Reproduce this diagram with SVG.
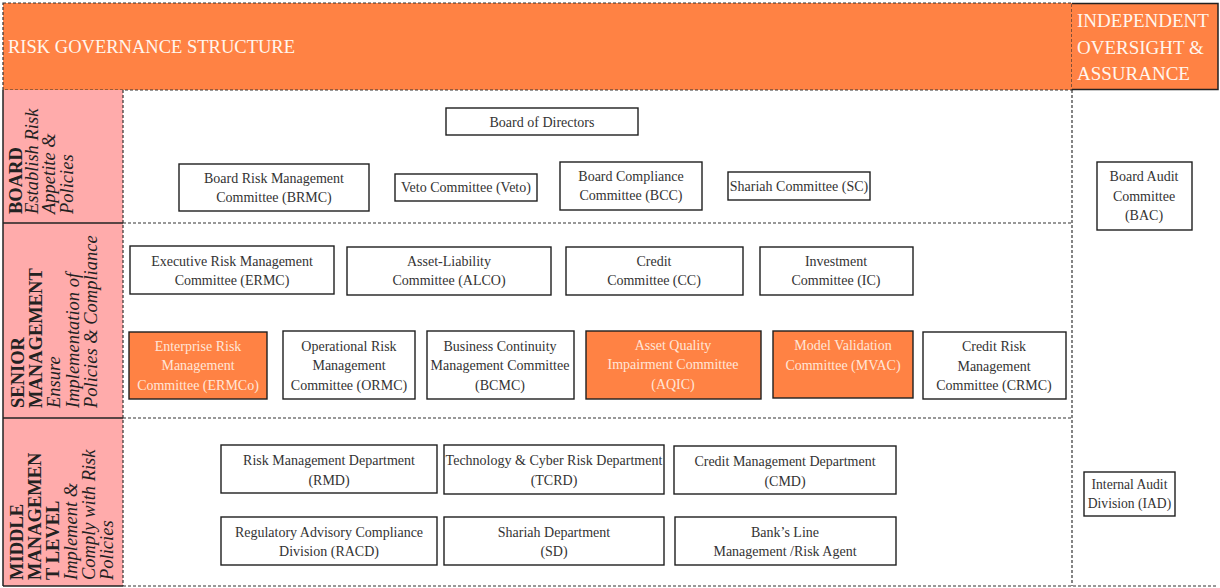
<svg xmlns="http://www.w3.org/2000/svg" width="1220" height="588" viewBox="0 0 1220 588">
<style>
.bg{fill:#ffffff}
.orange{fill:#FF8244}
.pink{fill:#FFABAB}
.dash{stroke:#333;stroke-width:1.2;stroke-dasharray:3 2;fill:none}
.solid{stroke:#222;stroke-width:1.5;fill:none}
.box{fill:#ffffff;stroke:#1e1e1e;stroke-width:1.4}
.obox{fill:#FF8244;stroke:#1e1e1e;stroke-width:1.4}
.t{font-family:"Liberation Serif","Times New Roman",serif;font-size:14px;fill:#333;text-anchor:middle}
.ts{font-family:"Liberation Serif","Times New Roman",serif;font-size:13.6px;fill:#333;text-anchor:middle}
.to{font-family:"Liberation Serif","Times New Roman",serif;font-size:14px;fill:#FFE6D8;text-anchor:middle}
.hd{font-family:"Liberation Serif","Times New Roman",serif;font-size:19px;fill:#FFF6EE}
.lane{font-family:"Liberation Serif","Times New Roman",serif;font-size:18.5px;fill:#222}
.b{font-weight:bold}
.i{font-style:italic}
</style>
<rect class="bg" x="0" y="0" width="1220" height="588"/>

<g id="header">
  <rect class="orange" x="3" y="3" width="1069" height="87"/>
  <rect class="dash" x="3" y="3" width="1069" height="87"/>
  <text class="hd" x="8" y="53" textLength="287" lengthAdjust="spacingAndGlyphs">RISK GOVERNANCE STRUCTURE</text>
</g>
<g id="oversight-header">
  <rect class="orange" x="1072" y="3" width="146" height="87"/>
  <polyline class="solid" points="1072,3.5 1218,3.5 1218,89.5 1072,89.5"/>
  <text class="hd"><tspan x="1077" y="27">INDEPENDENT</tspan><tspan x="1077" y="54">OVERSIGHT &amp;</tspan><tspan x="1077" y="80">ASSURANCE</tspan></text>
</g>

<g id="lanes">
  <rect class="pink" x="3" y="90" width="120" height="133"/>
  <rect class="pink" x="3" y="223" width="120" height="195"/>
  <rect class="pink" x="3" y="418" width="120" height="168"/>
  <line class="solid" x1="3" y1="90" x2="3" y2="586"/>
  <line class="solid" x1="3" y1="223" x2="123" y2="223"/>
  <line class="solid" x1="3" y1="418" x2="123" y2="418"/>
  <line class="solid" x1="3" y1="586" x2="123" y2="586"/>
  <line class="dash" x1="123" y1="90" x2="123" y2="586"/>
  <line class="dash" x1="123" y1="223" x2="1072" y2="223"/>
  <line class="dash" x1="123" y1="418" x2="1072" y2="418"/>
  <line class="dash" x1="123" y1="586" x2="1218" y2="586"/>
  <line class="dash" x1="1072" y1="90" x2="1072" y2="586"/>
</g>

<g id="lane-board">
  <text class="lane" transform="translate(21.5,214) rotate(-90)"><tspan class="b" x="0" y="0">BOARD</tspan><tspan class="i" x="0" y="16">Establish Risk</tspan><tspan class="i" x="0" y="33.5">Appetite &amp;</tspan><tspan class="i" x="0" y="51">Policies</tspan></text>
</g>
<g id="lane-senior">
  <text class="lane" transform="translate(24,408) rotate(-90)"><tspan class="b" x="0" y="0">SENIOR</tspan><tspan class="b" x="0" y="18">MANAGEMENT</tspan><tspan class="i" x="0" y="36">Ensure</tspan><tspan class="i" x="0" y="54.5">Implementation of</tspan><tspan class="i" x="0" y="73">Policies &amp; Compliance</tspan></text>
</g>
<g id="lane-middle">
  <text class="lane" transform="translate(23,580) rotate(-90)"><tspan class="b" x="0" y="0">MIDDLE</tspan><tspan class="b" x="0" y="18">MANAGEMEN</tspan><tspan class="b" x="0" y="36">T LEVEL</tspan><tspan class="i" x="0" y="54">Implement &amp;</tspan><tspan class="i" x="0" y="72">Comply with Risk</tspan><tspan class="i" x="0" y="90">Policies</tspan></text>
</g>

<g id="connectors"></g>

<g id="bod"><rect class="box" x="446" y="108" width="192" height="27"/><text class="t" x="542" y="127">Board of Directors</text></g>
<g id="brmc"><rect class="box" x="179" y="164" width="190" height="47"/><text class="t"><tspan x="274" y="183">Board Risk Management</tspan><tspan x="274" y="202">Committee (BRMC)</tspan></text></g>
<g id="veto"><rect class="box" x="395" y="174" width="142" height="27"/><text class="t" x="466" y="192">Veto Committee (Veto)</text></g>
<g id="bcc"><rect class="box" x="560" y="162" width="142" height="48"/><text class="t"><tspan x="631" y="181">Board Compliance</tspan><tspan x="631" y="200">Committee (BCC)</tspan></text></g>
<g id="sc"><rect class="box" x="728" y="172" width="142" height="28"/><text class="t" x="799" y="191">Shariah Committee (SC)</text></g>

<g id="ermc"><rect class="box" x="130" y="246" width="204" height="48"/><text class="t"><tspan x="232" y="266">Executive Risk Management</tspan><tspan x="232" y="285">Committee (ERMC)</tspan></text></g>
<g id="alco"><rect class="box" x="347" y="247" width="204" height="48"/><text class="t"><tspan x="449" y="266">Asset-Liability</tspan><tspan x="449" y="285">Committee (ALCO)</tspan></text></g>
<g id="cc"><rect class="box" x="566" y="247" width="177" height="48"/><text class="t"><tspan x="654" y="266">Credit</tspan><tspan x="654" y="285">Committee (CC)</tspan></text></g>
<g id="ic"><rect class="box" x="760" y="247" width="153" height="48"/><text class="t"><tspan x="836" y="266">Investment</tspan><tspan x="836" y="285">Committee (IC)</tspan></text></g>

<g id="ermco"><rect class="obox" x="129" y="332" width="138" height="67"/><text class="to"><tspan x="198" y="351">Enterprise Risk</tspan><tspan x="198" y="370">Management</tspan><tspan x="198" y="390">Committee (ERMCo)</tspan></text></g>
<g id="ormc"><rect class="box" x="283" y="331" width="132" height="68"/><text class="t"><tspan x="349" y="351">Operational Risk</tspan><tspan x="349" y="370">Management</tspan><tspan x="349" y="390">Committee (ORMC)</tspan></text></g>
<g id="bcmc"><rect class="box" x="427" y="331" width="147" height="68"/><text class="t"><tspan x="500" y="351">Business Continuity</tspan><tspan x="500" y="370">Management Committee</tspan><tspan x="500" y="390">(BCMC)</tspan></text></g>
<g id="aqic"><rect class="obox" x="586" y="331" width="175" height="68"/><text class="to"><tspan x="673" y="350">Asset Quality</tspan><tspan x="673" y="369">Impairment Committee</tspan><tspan x="673" y="389">(AQIC)</tspan></text></g>
<g id="mvac"><rect class="obox" x="773" y="331" width="140" height="67"/><text class="to"><tspan x="843" y="350">Model Validation</tspan><tspan x="843" y="370">Committee (MVAC)</tspan></text></g>
<g id="crmc"><rect class="box" x="923" y="332" width="143" height="67"/><text class="t"><tspan x="994" y="351">Credit Risk</tspan><tspan x="994" y="371">Management</tspan><tspan x="994" y="390">Committee (CRMC)</tspan></text></g>

<g id="rmd"><rect class="box" x="221" y="445" width="216" height="48"/><text class="t"><tspan x="329" y="465">Risk Management Department</tspan><tspan x="329" y="485">(RMD)</tspan></text></g>
<g id="tcrd"><rect class="box" x="444" y="445" width="220" height="49"/><text class="t"><tspan x="554" y="465">Technology &amp; Cyber Risk Department</tspan><tspan x="554" y="485">(TCRD)</tspan></text></g>
<g id="cmd"><rect class="box" x="674" y="446" width="222" height="48"/><text class="t"><tspan x="785" y="466">Credit Management Department</tspan><tspan x="785" y="486">(CMD)</tspan></text></g>
<g id="racd"><rect class="box" x="221" y="517" width="216" height="48"/><text class="t"><tspan x="329" y="537">Regulatory Advisory Compliance</tspan><tspan x="329" y="556">Division (RACD)</tspan></text></g>
<g id="sd"><rect class="box" x="444" y="517" width="220" height="48"/><text class="t"><tspan x="554" y="537">Shariah Department</tspan><tspan x="554" y="556">(SD)</tspan></text></g>
<g id="blm"><rect class="box" x="675" y="517" width="221" height="48"/><text class="t"><tspan x="785" y="537">Bank’s Line</tspan><tspan x="785" y="556">Management /Risk Agent</tspan></text></g>

<g id="bac"><rect class="box" x="1097" y="162" width="95" height="68"/><text class="t"><tspan x="1144" y="181">Board Audit</tspan><tspan x="1144" y="201">Committee</tspan><tspan x="1144" y="220">(BAC)</tspan></text></g>
<g id="iad"><rect class="box" x="1084" y="472" width="91" height="44"/><text class="ts"><tspan x="1129.5" y="489">Internal Audit</tspan><tspan x="1129.5" y="508">Division (IAD)</tspan></text></g>
</svg>
